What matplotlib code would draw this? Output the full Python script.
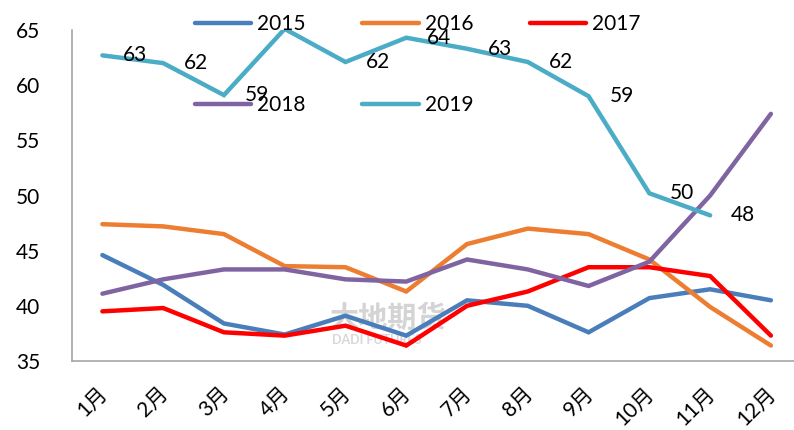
#!/usr/bin/env python3

import numpy as np
import matplotlib
matplotlib.use('Agg')
import matplotlib.pyplot as plt
from matplotlib.transforms import ScaledTranslation

plt.rcParams['font.family'] = ['Lato', 'Noto Sans CJK SC', 'DejaVu Sans']

months = ['1月', '2月', '3月', '4月', '5月', '6月',
          '7月', '8月', '9月', '10月', '11月', '12月']

y2015 = [44.6, 41.9, 38.4, 37.4, 39.1, 37.3, 40.5, 40.0, 37.6, 40.7, 41.5, 40.5]
y2016 = [47.4, 47.2, 46.5, 43.6, 43.5, 41.3, 45.6, 47.0, 46.5, 44.2, 39.9, 36.4]
y2017 = [39.5, 39.8, 37.6, 37.3, 38.2, 36.4, 40.0, 41.3, 43.5, 43.5, 42.7, 37.3]
y2018 = [41.1, 42.4, 43.3, 43.3, 42.4, 42.2, 44.2, 43.3, 41.8, 44.0, 50.0, 57.4]
y2019 = [62.7, 62.0, 59.1, 65.1, 62.1, 64.3, 63.3, 62.1, 59.0, 50.2, 48.2]

series = [('2015', y2015, '#4a7ebb'),
          ('2016', y2016, '#ed7d31'),
          ('2017', y2017, '#ff0000'),
          ('2018', y2018, '#8064a2'),
          ('2019', y2019, '#4bacc6')]

W, H = 794, 430
fig = plt.figure(figsize=(W / 100, H / 100), dpi=100)
ax = fig.add_axes([72 / W, 1 - 361 / H, 1 - 72 / W, (361 - 30) / H])

# faint watermark
fig.text(330 / W, 1 - 318 / H, '大地期货', fontsize=21, color='#d4d4d4',
         ha='left', va='center', fontweight='bold', zorder=-1)
fig.text(332 / W, 1 - 340 / H, 'DADI FUTURES', fontsize=9, color='#d8d8d8',
         ha='left', va='center', fontweight='bold', zorder=-1)

x = np.arange(len(months))
handles = {}
for name, vals, color in series:
	h, = ax.plot(x[:len(vals)], vals, color=color, lw=3.2,
	             solid_capstyle='round', solid_joinstyle='miter', label=name)
	handles[name] = h

# data labels for 2019
for xi, v in zip(x, y2019):
	ax.annotate('%d' % round(v), (xi, v), xytext=(15, 0), textcoords='offset points',
	            ha='left', va='center', fontsize=15, color='black')

ax.set_xlim(-0.5, 11.38)
ax.set_ylim(35, 65)
ax.set_yticks(range(35, 70, 5))
ax.set_xticks(x)
ax.set_xticklabels(months, rotation=45, ha='right', va='top', rotation_mode='anchor')
ax.tick_params(axis='both', length=0, labelsize=15)
ax.tick_params(axis='y', pad=23)
ax.tick_params(axis='x', pad=16)
shift = ScaledTranslation(-4 / 72, 0, fig.dpi_scale_trans)
for lab in ax.get_xticklabels():
	lab.set_transform(lab.get_transform() + shift)
ax.patch.set_alpha(0)
for s in ['top', 'right']:
	ax.spines[s].set_visible(False)
for s in ['left', 'bottom']:
	ax.spines[s].set_color('#a6a6a6')
	ax.spines[s].set_linewidth(1.2)

order = ['2015', '2018', '2016', '2019', '2017']
fig.legend([handles[k] for k in order], order, ncol=3, loc='upper left',
           bbox_to_anchor=(195 / W, 1 - 14 / H), frameon=False, fontsize=15,
           handlelength=2.7, handletextpad=0.3, columnspacing=2.7,
           labelspacing=2.95, borderpad=0, borderaxespad=0)

fig.savefig('out.png', dpi=100)
